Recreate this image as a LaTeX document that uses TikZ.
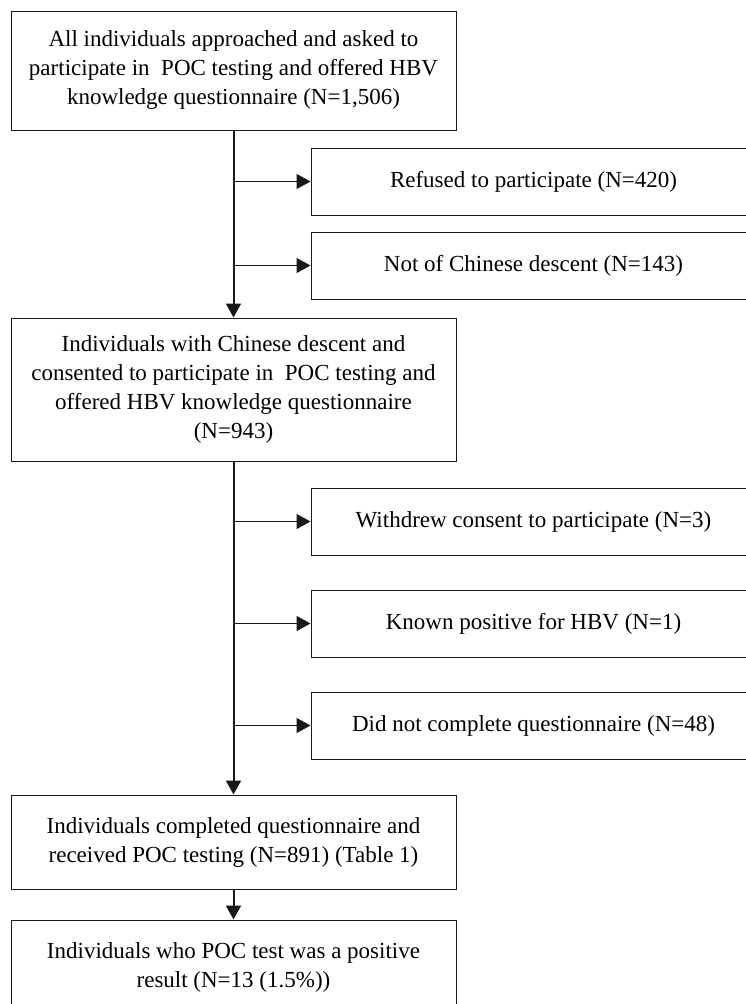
\documentclass[tikz,border=0pt]{standalone}
\usepackage{fontspec}
\setmainfont{Liberation Serif}
\usetikzlibrary{positioning, arrows.meta}
\colorlet{drawColor}{black!90}
\tikzstyle{fBox}=[rectangle, align=center, draw=drawColor, line width=1pt,
minimum width=445pt, inner sep=0pt, fill=white]
\tikzstyle{fMain}=[fBox]
\tikzstyle{fSide}=[fBox, minimum height=67pt]
\tikzstyle{arrow}=[-{Triangle[length=14pt, width=15pt]}, line width=2pt, draw=black!90]
\tikzstyle{arrowSide}=[arrow, line width=1.4pt]

\begin{document}
\begin{tikzpicture}[x=1pt, y=1pt, node distance=30pt, font=\fontsize{23}{29}\selectfont]
      \useasboundingbox (0,0) rectangle (745,-1004);
      \node(allInd) [fMain, minimum height=119pt] at (233.5,-70.5)
      {All individuals approached and asked to\\participate in~ POC
        testing and offered HBV\\knowledge questionnaire (N=1,506)};
      \node(consented) [fMain, minimum height=143pt, below=187pt of allInd]
      {Individuals with Chinese descent and\\consented to participate in~
        POC testing and\\offered HBV knowledge questionnaire\\(N=943)};
      \draw [arrow] (allInd) -- (consented);
      \node(refused) [fSide] at (533.5,-181.5) {Refused to participate (N=420)};
      \draw [arrowSide] (refused.west -| allInd.south) -- (refused);
      \node(notChinese) [fSide] at (533.5,-265.5) {Not of Chinese descent (N=143)};
      \draw [arrowSide] (notChinese.west -| allInd.south) -- (notChinese);
      \node(completed) [fMain, minimum height=94pt, below=333pt of consented]
      {Individuals completed questionnaire and\\received POC testing
        (N=891) (Table 1)};
      \draw [arrow] (consented) -- (completed);
      \node(withdrew) [fSide] at (533.5,-521.5) {Withdrew consent to participate (N=3)};
      \draw [arrowSide] (withdrew.west -| consented.south) -- (withdrew);
      \node(knownPos) [fSide] at (533.5,-623.5) {Known positive for HBV (N=1)};
      \draw [arrowSide] (knownPos.west -| consented.south) -- (knownPos);
      \node(noQuest) [fSide] at (533.5,-725.5) {Did not complete questionnaire (N=48)};
      \draw [arrowSide] (noQuest.west -| consented.south) -- (noQuest);
      \node(positive) [fMain, minimum height=94pt, below=30pt of completed]
      {Individuals who POC test was a positive\\result (N=13 (1.5\%))};
      \draw [arrow] (completed) -- (positive);
    \end{tikzpicture}
\end{document}
